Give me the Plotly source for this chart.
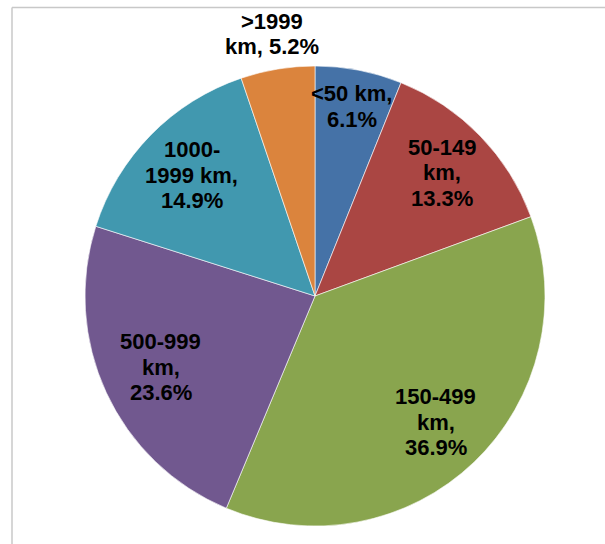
import math
import plotly.graph_objects as go

# Trip-distance bands and their share of trips (%)
categories = ["<50 km", "50-149 km", "150-499 km", "500-999 km", "1000-1999 km", ">1999 km"]
shares = [6.1, 13.3, 36.9, 23.6, 14.9, 5.2]

# Styling
colors = ["#4572A7", "#AA4643", "#89A54E", "#71588F", "#4198AF", "#DB843D"]
label_radius = [0.84, 0.77, 0.76, 0.74, 0.75, 1.155]   # label distance from centre, in pie radii
label_breaks = [[7], [6, 10], [7, 11], [7, 11], [5, 13], [5]]  # character offsets for line breaks

W, H = 605, 544
CX, CY, R = 315, 296, 230       # pie centre and radius in pixels
LINE_H = 25.5
FONT = dict(family="Liberation Sans, Arial, sans-serif", size=22, color="black")

fig = go.Figure(go.Pie(
    labels=categories,
    values=shares,
    sort=False,
    direction="clockwise",
    rotation=0,
    marker=dict(colors=colors, line=dict(color="white", width=0.6)),
    textinfo="none",
    hoverinfo="label+percent",
    domain=dict(x=[(CX - R) / W, (CX + R) / W], y=[1 - (CY + R) / H, 1 - (CY - R) / H]),
    showlegend=False,
))

total = sum(shares)
start = 0.0
annotations = []
for name, val, rf, brks in zip(categories, shares, label_radius, label_breaks):
    mid = (start + val / 2) / total * 2 * math.pi
    start += val
    text = f"{name}, {val:.1f}%"
    cuts = [0] + brks + [len(text)]
    lines = [text[a:b].strip() for a, b in zip(cuts[:-1], cuts[1:])]
    px = CX + rf * R * math.sin(mid)
    py = CY - rf * R * math.cos(mid)
    n = len(lines)
    for i, ln in enumerate(lines):
        ly = py + (i - (n - 1) / 2) * LINE_H
        annotations.append(dict(
            x=px / W, y=1 - ly / H, xref="paper", yref="paper",
            text=f"<b>{ln}</b>", showarrow=False, font=FONT,
            xanchor="center", yanchor="middle",
        ))

# Chart-area frame (top and left edges)
shapes = [
    dict(type="line", xref="paper", yref="paper", x0=12 / W, x1=1.02, y0=1 - 7.5 / H, y1=1 - 7.5 / H,
         line=dict(color="#C8C8C8", width=1.5)),
    dict(type="line", xref="paper", yref="paper", x0=12 / W, x1=12 / W, y0=1 - 7.5 / H, y1=-0.02,
         line=dict(color="#C8C8C8", width=1.5)),
]

fig.update_layout(
    width=W, height=H,
    margin=dict(l=0, r=0, t=0, b=0),
    paper_bgcolor="white", plot_bgcolor="white",
    annotations=annotations,
    shapes=shapes,
)

fig.write_html("out.html")
